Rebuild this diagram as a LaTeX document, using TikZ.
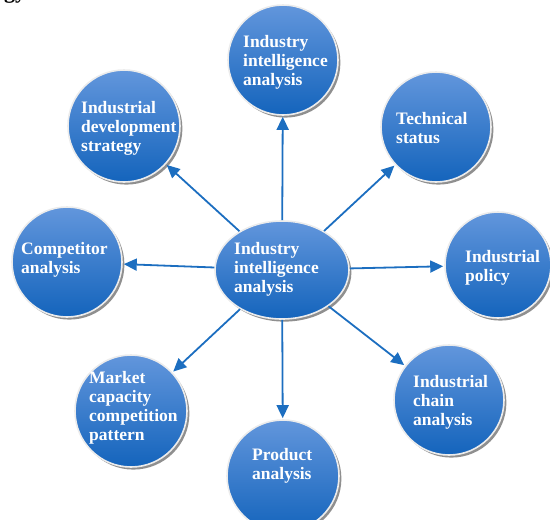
\documentclass[tikz,border=0pt]{standalone}
\usepackage{fontspec}
\setmainfont{Liberation Serif}
\usetikzlibrary{arrows.meta,shadows,shapes.geometric}

\definecolor{balltop}{RGB}{98,150,220}
\definecolor{ballbot}{RGB}{20,100,188}
\definecolor{link}{RGB}{28,110,192}
\definecolor{rim}{RGB}{236,236,236}
\definecolor{shadegray}{RGB}{115,115,115}

\tikzset{
  ballfill/.style={inner sep=0pt, top color=balltop, bottom color=ballbot,
    draw=rim, line width=1.6pt,
    drop shadow={shadow xshift=2.4pt, shadow yshift=-2.6pt, fill=shadegray, opacity=0.8}},
  ball/.style={circle, ballfill, minimum size=#1},
  hub/.style={ellipse, ballfill, minimum width=134pt, minimum height=98pt},
  txt/.style={text=white, font=\bfseries\fontsize{17.5}{19}\selectfont,
    align=left, anchor=west, inner sep=0pt},
  link/.style={draw=link, line width=1.8pt,
    -{Triangle[length=13pt,width=12pt]}, shorten >=1pt}
}

\begin{document}
\begin{tikzpicture}[x=1pt,y=-1pt]
  \useasboundingbox (0,0) rectangle (550,520);
  \clip (0,0) rectangle (550,520);

  % tail of the preceding line of text
  \node[anchor=base west, inner sep=0pt, font=\bfseries\fontsize{22}{24}\selectfont] (tail) at (4,-2) {gy.};

  % outer topics
  \node[ball=110pt] (top)  at (283,60)  {};
  \node[ball=112pt] (dev)  at (124,126) {};
  \node[ball=110pt] (tech) at (436,127) {};
  \node[ball=110pt] (comp) at (67,262)  {};
  \node[ball=106pt] (pol)  at (498,265) {};
  \node[ball=112pt] (mkt)  at (131,411) {};
  \node[ball=112pt] (prod) at (283,476) {};
  \node[ball=110pt] (chain) at (449,400) {};

  % hub
  \node[hub] (hub) at (282,270) {};

  % labels
  \node[txt] (ltop)   at (243,62)  {Industry\\intelligence\\analysis};
  \node[txt] (ldev)   at (81,128)  {Industrial\\development\\strategy};
  \node[txt] (ltech)  at (396,128) {Technical\\status};
  \node[txt] (lcomp)  at (21,260)  {Competitor\\analysis};
  \node[txt] (lhub)   at (234,269) {Industry\\intelligence\\analysis};
  \node[txt] (lpol)   at (465,268) {Industrial\\policy};
  \node[txt] (lmkt)   at (89,408)  {Market\\capacity\\competition\\pattern};
  \node[txt] (lprod)  at (252,466) {Product\\analysis};
  \node[txt] (lchain) at (413,402) {Industrial\\chain\\analysis};

  % connectors
  \draw[link] (hub) -- (top);
  \draw[link] (hub) -- (dev);
  \draw[link] (hub) -- (tech);
  \draw[link] (hub) -- (comp);
  \draw[link] (hub) -- (pol);
  \draw[link] (hub) -- (mkt);
  \draw[link] (hub) -- (prod);
  \draw[link] (hub) -- (chain);
\end{tikzpicture}
\end{document}
